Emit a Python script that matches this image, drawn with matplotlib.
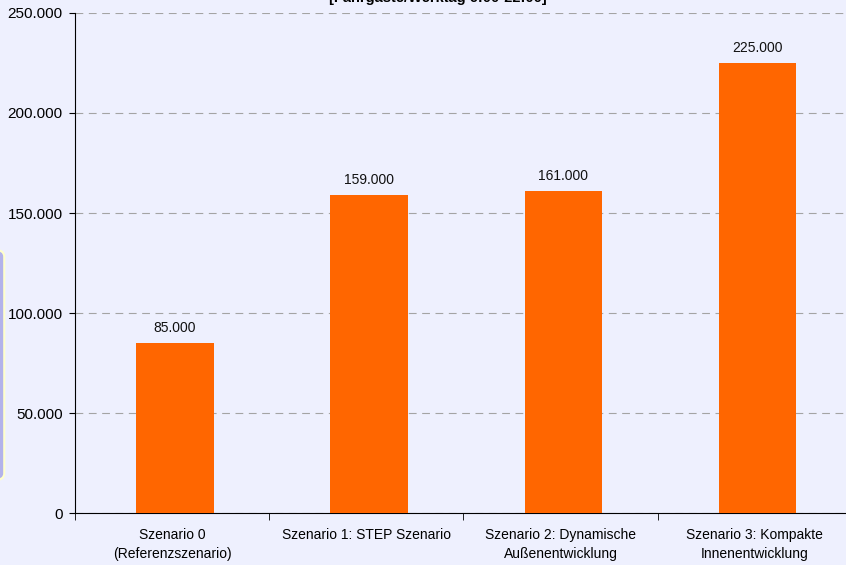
import numpy as np
import matplotlib.pyplot as plt
from matplotlib.patches import FancyBboxPatch
from matplotlib.ticker import FuncFormatter

plt.rcParams['font.family'] = ['Liberation Sans', 'DejaVu Sans']

categories = ['Szenario 0\n(Referenzszenario)', 'Szenario 1: STEP Szenario',
              'Szenario 2: Dynamische\nAußenentwicklung', 'Szenario 3: Kompakte\nInnenentwicklung']
values = [85000, 159000, 161000, 225000]
yticks = [0, 50000, 100000, 150000, 200000, 250000]

bg = '#EEF0FE'
fig = plt.figure(figsize=(8.46, 5.65), dpi=100, facecolor=bg)
ax = fig.add_axes([0.0887, 0.092, 0.918, 0.885], facecolor=bg)

x = np.arange(len(values))
ax.bar(x + 0.015, values, width=0.4, color='#FF6600', zorder=3)
for xi, v in zip(x, values):
    ax.text(xi + 0.015, v + 4000, f'{v:,}'.replace(',', '.'), ha='center', va='bottom',
            fontsize=10, color='#111111')

def fmt(v, pos):
    return f'{int(v):,}'.replace(',', '.')

ax.set_ylim(0, 250000)
ax.set_yticks(yticks)
ax.yaxis.set_major_formatter(FuncFormatter(fmt))
ax.set_xlim(-0.5, len(values) - 0.5)
ax.set_xticks(x)
ax.set_xticklabels(categories, fontsize=10, linespacing=1.4)
ax.set_xticks(np.arange(len(values)) - 0.5, minor=True)
ax.tick_params(axis='x', which='major', length=0, pad=11)
ax.tick_params(axis='x', which='minor', length=5, direction='out')
ax.tick_params(axis='y', length=4, direction='out', labelsize=11, pad=5)
ax.grid(axis='y', color='#A4A4A4', linestyle=(0, (7, 5)), linewidth=0.8, zorder=0)
for s in ['top', 'right']:
    ax.spines[s].set_visible(False)
ax.spines['left'].set_color('black')
ax.spines['bottom'].set_color('black')

fig.text(0.517, 1.003, '[Fahrgäste/Werktag 6:00-22:00]', ha='center', va='center',
         fontsize=10.5, fontweight='bold')

box = FancyBboxPatch((-0.05, 0.15), 0.055, 0.408, boxstyle='round,pad=0,rounding_size=0.012',
                     transform=fig.transFigure, facecolor='#B3B3EA', edgecolor='#FFFFCC',
                     linewidth=1.5, figure=fig)
fig.patches.append(box)

fig.savefig('out.png', dpi=100, facecolor=bg)
